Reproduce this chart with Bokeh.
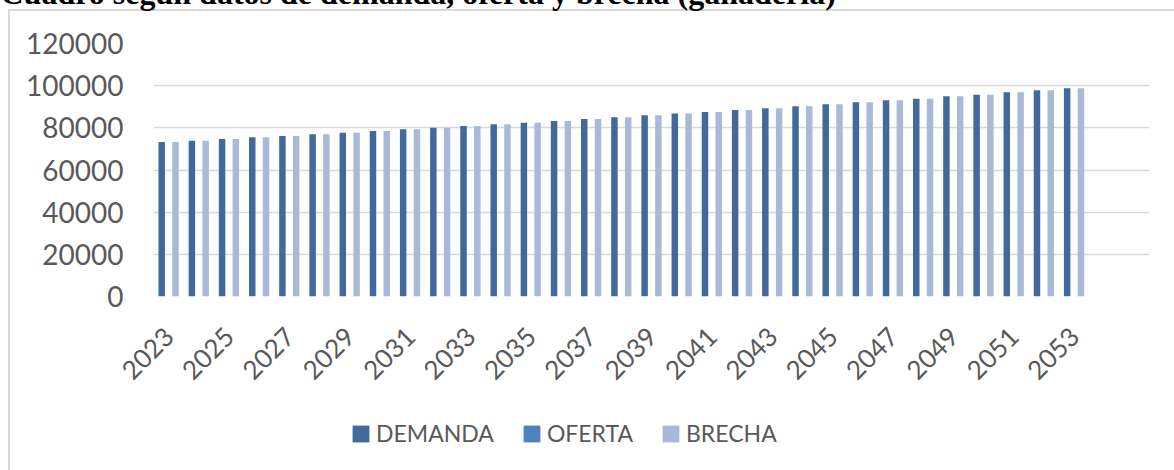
import math
from bokeh.plotting import figure
from bokeh.layouts import column
from bokeh.models import (Range1d, FixedTicker, Legend, LegendItem,
                          NumeralTickFormatter, ColumnDataSource)
from bokeh.transform import dodge
from bokeh.embed import file_html
from bokeh.resources import INLINE

# ---------------- data ----------------
years = list(range(2023, 2054))
demanda = [73300, 73930, 74720, 75510, 76140, 76930, 77720, 78510, 79300, 80090,
           80880, 81670, 82470, 83260, 84200, 85000, 85940, 86740, 87530, 88480,
           89270, 90210, 91170, 92110, 93060, 93850, 94960, 95750, 96850, 97800, 98750]
oferta = [0, 0, 0, 0, 0, 0, 0, 0, 0, 0, 0, 0, 0, 0, 0, 0, 0, 0, 0, 0,
          0, 0, 0, 0, 0, 0, 0, 0, 0, 0, 0]
brecha = [73300, 73930, 74720, 75510, 76140, 76930, 77720, 78510, 79300, 80090,
          80880, 81670, 82470, 83260, 84200, 85000, 85940, 86740, 87530, 88480,
          89270, 90210, 91170, 92110, 93060, 93850, 94960, 95750, 96850, 97800, 98750]
series_names = ["DEMANDA", "OFERTA", "BRECHA"]
series_cols = ["demanda", "oferta", "brecha"]
tick_years = years[::2]
y_ticks = [0, 20000, 40000, 60000, 80000, 100000, 120000]
title_text = "Cuadro según datos de demanda, oferta y brecha (ganadería)"

# ---------------- layout constants ----------------
S = 70                      # whole chart raised by S px so the title is cut at the top edge
W = 1174
BOT = 410                   # page y where the main figure ends
H1 = BOT + S
H2 = 470 - BOT
FL, FR, FT, FB = 153, 1149, 43 + S, 296 + S   # frame edges (canvas px)
X0, X1 = 2022.5, 2055.5                       # 33 category slots
Y0, Y1 = 0, 120000

colors = ["#41699B", "#4F81BD", "#AAB9D7"]
grey = "#595959"
line_grey = "#D9D9D9"
font = "Lato"

src = ColumnDataSource(dict(year=years, demanda=demanda, oferta=oferta, brecha=brecha))

p = figure(width=W, height=H1, output_backend="svg", toolbar_location=None,
           x_range=Range1d(X0, X1), y_range=Range1d(Y0, Y1),
           min_border_left=FL, min_border_right=W - FR,
           min_border_top=FT, min_border_bottom=H1 - FB)
p.outline_line_color = None
p.background_fill_alpha = 0
p.border_fill_alpha = 0

bw = 0.215
off = 0.228
offsets = [-off, 0, off]
for col, c, o in zip(series_cols, colors, offsets):
    p.vbar(x=dodge("year", o), top=col, width=bw, source=src, fill_color=c, line_color=None)

# title
p.title.text = title_text
p.title.text_font = "Liberation Serif"
p.title.text_font_style = "bold"
p.title.text_font_size = "32px"
p.title.text_color = "black"
p.title.align = "left"
p.title.offset = -FL
p.title.standoff = 65

# axes and grid
p.xgrid.visible = False
p.ygrid.ticker = FixedTicker(ticks=y_ticks)
p.ygrid.grid_line_color = line_grey
p.ygrid.grid_line_width = 1.6

p.yaxis.ticker = FixedTicker(ticks=y_ticks)
p.yaxis.formatter = NumeralTickFormatter(format="0")
p.yaxis.axis_line_color = None
p.yaxis.major_tick_line_color = None
p.yaxis.minor_tick_line_color = None
p.yaxis.major_label_standoff = 24
p.yaxis.major_label_text_font = font
p.yaxis.major_label_text_font_size = "28px"
p.yaxis.major_label_text_color = grey

p.xaxis.ticker = FixedTicker(ticks=tick_years)
p.xaxis.formatter = NumeralTickFormatter(format="0")
p.xaxis.axis_line_color = None
p.xaxis.major_tick_line_color = None
p.xaxis.minor_tick_line_color = None
p.xaxis.major_label_orientation = math.pi / 4
p.xaxis.major_label_standoff = 29
p.xaxis.major_label_text_font = font
p.xaxis.major_label_text_font_size = "26px"
p.xaxis.major_label_text_color = grey

# legend strip (own small figure, so that the legend is not clipped by the main plot frame);
# its renderers share the bar data but are hidden, only their legend swatches show
pl = figure(width=W, height=H2, output_backend="svg", toolbar_location=None,
            x_range=Range1d(0, W), y_range=Range1d(0, H2),
            min_border=0, x_axis_type=None, y_axis_type=None)
pl.outline_line_color = None
pl.grid.visible = False
pl.background_fill_alpha = 0
pl.border_fill_alpha = 0
lrs = []
for col, c, o in zip(series_cols, colors, offsets):
    r = pl.vbar(x=dodge("year", o), top=col, width=bw, source=src, fill_color=c, line_color=None)
    r.visible = False
    lrs.append(r)
legend = Legend(items=[LegendItem(label=n, renderers=[r]) for n, r in zip(series_names, lrs)],
                orientation="horizontal", location=(350 - FL, 23),
                padding=0, margin=0, spacing=27, label_standoff=5,
                glyph_width=21, glyph_height=21, label_height=21,
                label_text_font=font, label_text_font_size="23px",
                label_text_color=grey, border_line_color=None, background_fill_alpha=0,
                inactive_fill_alpha=0)
pl.add_layout(legend)

page = column(p, pl, spacing=0)
# chart-area border (only its left and top edges are in view), drawn behind transparent canvases
page.styles = {
    "margin-top": f"-{S}px",
    "background-image": f"linear-gradient({line_grey},{line_grey}), linear-gradient({line_grey},{line_grey})",
    "background-size": "2px 100%, 100% 2px",
    "background-position": f"8px {S + 9}px, 8px {S + 9}px",
    "background-repeat": "no-repeat",
}

open("out.html", "w").write(file_html(page, INLINE))
